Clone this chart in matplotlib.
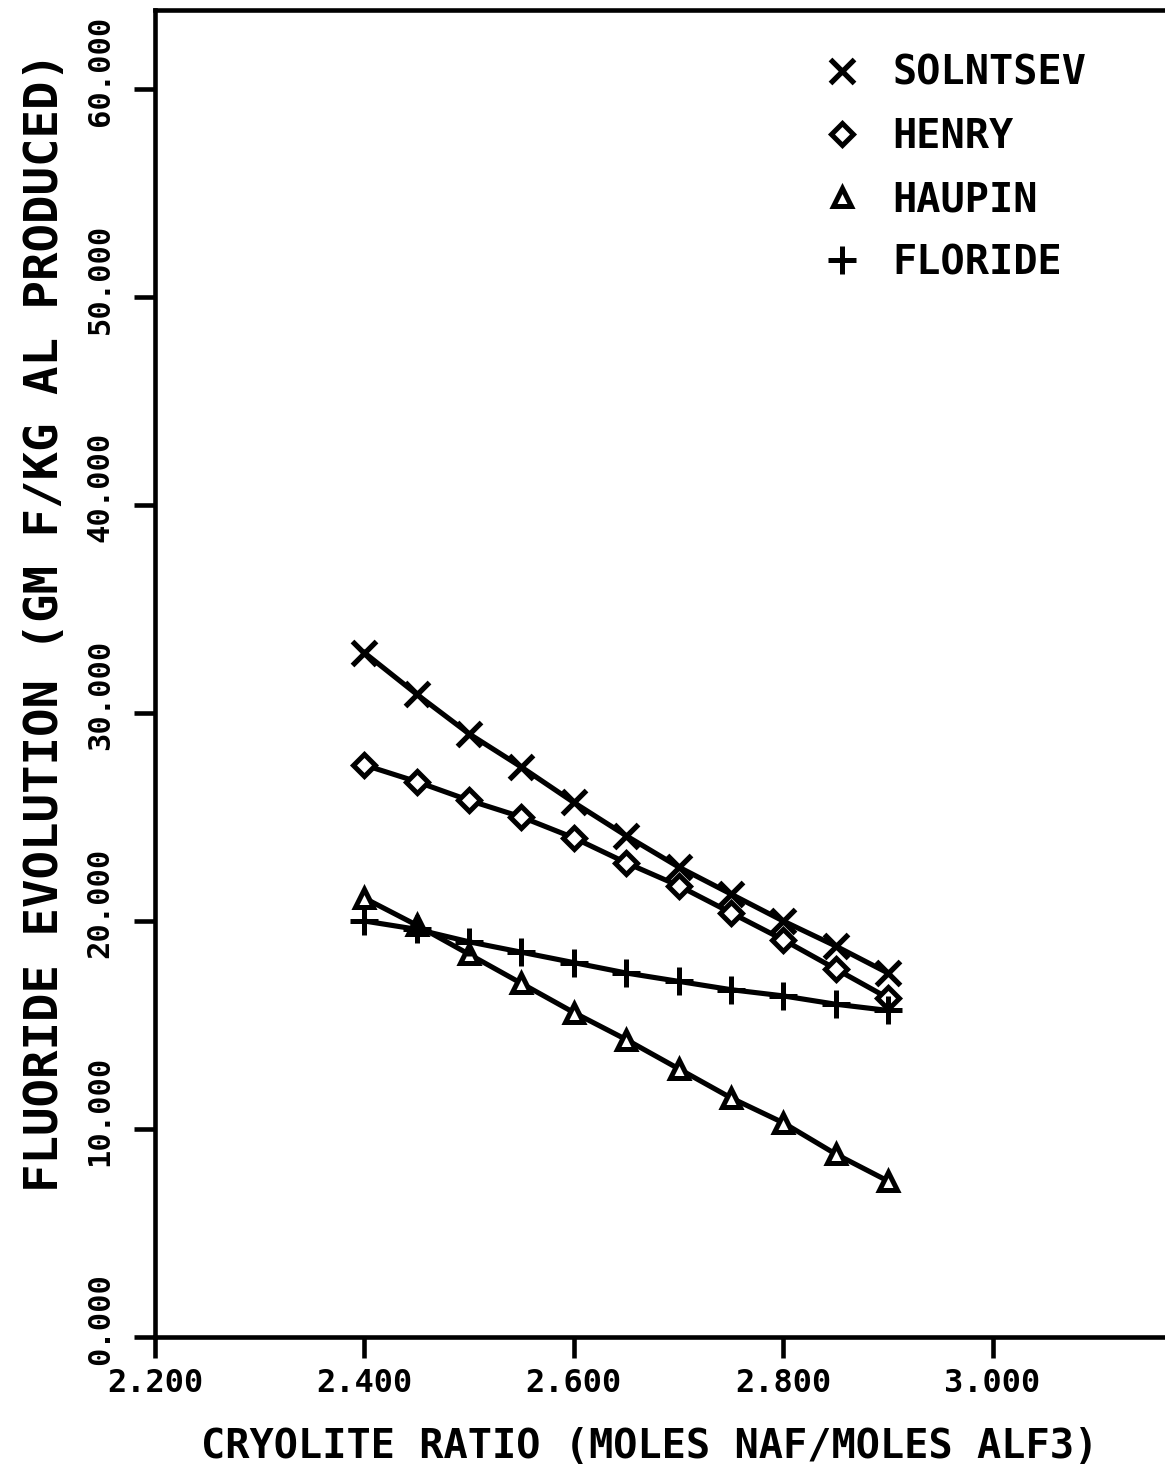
import matplotlib
matplotlib.use("Agg")
import matplotlib.pyplot as plt
import matplotlib.transforms as mtransforms
from matplotlib.lines import Line2D
from matplotlib.ticker import FormatStrFormatter

# cryolite ratio (moles NaF / moles AlF3)
ratio = [2.40, 2.45, 2.50, 2.55, 2.60, 2.65, 2.70, 2.75, 2.80, 2.85, 2.90]

# fluoride evolution, gm F / kg Al produced
solntsev = [32.9, 30.9, 29.0, 27.4, 25.7, 24.1, 22.6, 21.3, 20.0, 18.8, 17.5]
henry = [27.5, 26.7, 25.8, 25.0, 24.0, 22.8, 21.7, 20.4, 19.1, 17.7, 16.3]
haupin = [21.1, 19.8, 18.4, 17.0, 15.6, 14.3, 12.9, 11.5, 10.3, 8.8, 7.5]
floride = [20.0, 19.6, 19.0, 18.5, 18.0, 17.5, 17.1, 16.7, 16.4, 16.0, 15.7]

series_names = ["SOLNTSEV", "HENRY", "HAUPIN", "FLORIDE"]
x_ticks = [2.2, 2.4, 2.6, 2.8, 3.0]
y_ticks = [0, 10, 20, 30, 40, 50, 60]

plt.rcParams['font.family'] = ['DejaVu Sans Mono']
plt.rcParams['font.weight'] = 'bold'
plt.rcParams['axes.labelweight'] = 'bold'

fig = plt.figure(figsize=(11.65, 14.7), dpi=100)
# axes run past the right edge of the page, like the plotter output
ax = fig.add_axes([155 / 1165, 133 / 1470, 1047 / 1165, 1327 / 1470])

styles = [
    dict(marker='x', markersize=17, markeredgewidth=3.8),
    dict(marker='D', markersize=11, markeredgewidth=3.6, markerfacecolor='white'),
    dict(marker='^', markersize=13, markeredgewidth=3.6, markerfacecolor='white'),
    dict(marker='+', markersize=20, markeredgewidth=3.6),
]

for ys, st in zip([solntsev, henry, haupin, floride], styles):
    ax.plot(ratio, ys, color='black', linewidth=3.7, **st)

handles = [Line2D([], [], color='black', linestyle='none', **st) for st in styles]
ax.legend(handles, series_names, loc='upper left', bbox_to_anchor=(0.637, 0.967),
          frameon=False, fontsize=29, handlelength=1.0, handletextpad=0.75,
          labelspacing=0.6, borderpad=0, borderaxespad=0)

ax.set_xlim(2.2, 3.2)
ax.set_ylim(0, 63.8)
ax.set_xticks(x_ticks)
ax.set_yticks(y_ticks)
ax.xaxis.set_major_formatter(FormatStrFormatter('%.3f'))
ax.yaxis.set_major_formatter(FormatStrFormatter('%.3f'))

for sp in ['left', 'bottom', 'top']:
    ax.spines[sp].set_linewidth(3.3)
ax.spines['right'].set_visible(False)

ax.tick_params(axis='both', direction='out', length=15, width=3.3)
ax.tick_params(axis='x', labelsize=23, pad=7)
ax.tick_params(axis='y', labelsize=22, pad=14)
shift = mtransforms.ScaledTranslation(0, 18 / 100, fig.dpi_scale_trans)
for lab in ax.get_yticklabels():
    lab.set_rotation(90)
    lab.set_va('center')
    lab.set_transform(lab.get_transform() + shift)

ax.set_xlabel('CRYOLITE RATIO (MOLES NAF/MOLES ALF3)', fontsize=29)
ax.xaxis.set_label_coords(0.472, -0.068)
ax.set_ylabel('FLUORIDE EVOLUTION (GM F/KG AL PRODUCED)', fontsize=34)
ax.yaxis.set_label_coords(-0.083, 0.539)

fig.savefig('out.png', dpi=100)
